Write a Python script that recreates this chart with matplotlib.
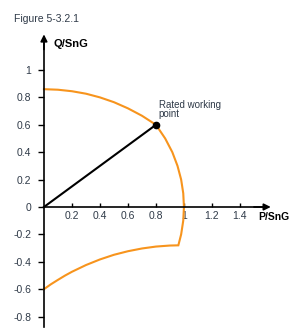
import matplotlib
matplotlib.use("Agg")
import matplotlib.pyplot as plt

plt.rcParams['font.family'] = ['Liberation Sans', 'DejaVu Sans']

# Capability diagram boundary (P/SnG, Q/SnG)
upper_p = [0.0, 0.1, 0.2, 0.3, 0.4, 0.5, 0.6, 0.7, 0.8]
upper_q = [0.86, 0.856, 0.845, 0.827, 0.80, 0.765, 0.72, 0.666, 0.60]

stator_p = [0.8, 0.866, 0.917, 0.954, 0.980, 0.995, 1.0, 0.995, 0.980, 0.96]
stator_q = [0.6, 0.5, 0.4, 0.3, 0.2, 0.1, 0.0, -0.1, -0.2, -0.28]

lower_p = [0.96, 0.9, 0.8, 0.7, 0.6, 0.5, 0.4, 0.3, 0.2, 0.15, 0.1, 0.05, 0.0]
lower_q = [-0.28, -0.2815, -0.289, -0.303, -0.323, -0.349, -0.383, -0.424,
           -0.473, -0.501, -0.532, -0.564, -0.60]

rated_p = [0.0, 0.8]
rated_q = [0.0, 0.6]

x_ticks = [0.2, 0.4, 0.6, 0.8, 1.0, 1.2, 1.4]
x_labels = ['0.2', '0.4', '0.6', '0.8', '1', '1.2', '1.4']
y_ticks = [-0.8, -0.6, -0.4, -0.2, 0.0, 0.2, 0.4, 0.6, 0.8, 1.0]
y_labels = ['-0.8', '-0.6', '-0.4', '-0.2', '0', '0.2', '0.4', '0.6', '0.8', '1']

orange = '#f7941d'
text_col = '#2f3a48'

fig = plt.figure(figsize=(3.0, 3.33), dpi=100)
ax = fig.add_axes([0, 0, 1, 1])
ax.set_xlim(-0.314, 1.829)
ax.set_ylim(-0.920, 1.511)

# boundary
ax.plot(upper_p + stator_p[1:] + lower_p[1:],
        upper_q + stator_q[1:] + lower_q[1:],
        color=orange, lw=1.5, solid_joinstyle='miter')

# rated working point
ax.plot(rated_p, rated_q, color='black', lw=1.5)
ax.plot(rated_p[1], rated_q[1], 'o', color='black', ms=4.5)
ax.text(rated_p[1] + 0.02, rated_q[1] + 0.04, 'Rated working\npoint',
        fontsize=7, color=text_col, linespacing=0.9, va='bottom', ha='left')

# axes through the origin
for s in ['top', 'right']:
    ax.spines[s].set_visible(False)
ax.spines['left'].set_position(('data', 0))
ax.spines['bottom'].set_position(('data', 0))
ax.spines['left'].set_bounds(-0.876, 1.2)
ax.spines['bottom'].set_bounds(0, 1.58)
ax.spines['left'].set_linewidth(1.2)
ax.spines['bottom'].set_linewidth(1.2)
ax.annotate('', xy=(1.62, 0), xytext=(1.5, 0),
            arrowprops=dict(arrowstyle='-|>', color='black', lw=1.2,
                            mutation_scale=10, shrinkA=0, shrinkB=0))
ax.annotate('', xy=(0, 1.26), xytext=(0, 1.15),
            arrowprops=dict(arrowstyle='-|>', color='black', lw=1.2,
                            mutation_scale=10, shrinkA=0, shrinkB=0))

ax.set_xticks(x_ticks)
ax.set_xticklabels(x_labels)
ax.set_yticks(y_ticks)
ax.set_yticklabels(y_labels)
ax.tick_params(axis='x', direction='in', length=3, width=1, pad=3,
               labelsize=7.5, labelcolor=text_col)
ax.tick_params(axis='y', direction='out', length=4, width=1, pad=5,
               labelsize=7.5, labelcolor=text_col)

ax.text(1.53, -0.04, 'P/SnG', fontsize=7.5, fontweight='bold', va='top', ha='left')
ax.text(0.07, 1.19, 'Q/SnG', fontsize=8, fontweight='bold', va='center', ha='left')

fig.text(14 / 300, 1 - 19 / 333, 'Figure 5-3.2.1', fontsize=7.5, color=text_col,
         va='center', ha='left')

fig.savefig('out.png', dpi=100)
